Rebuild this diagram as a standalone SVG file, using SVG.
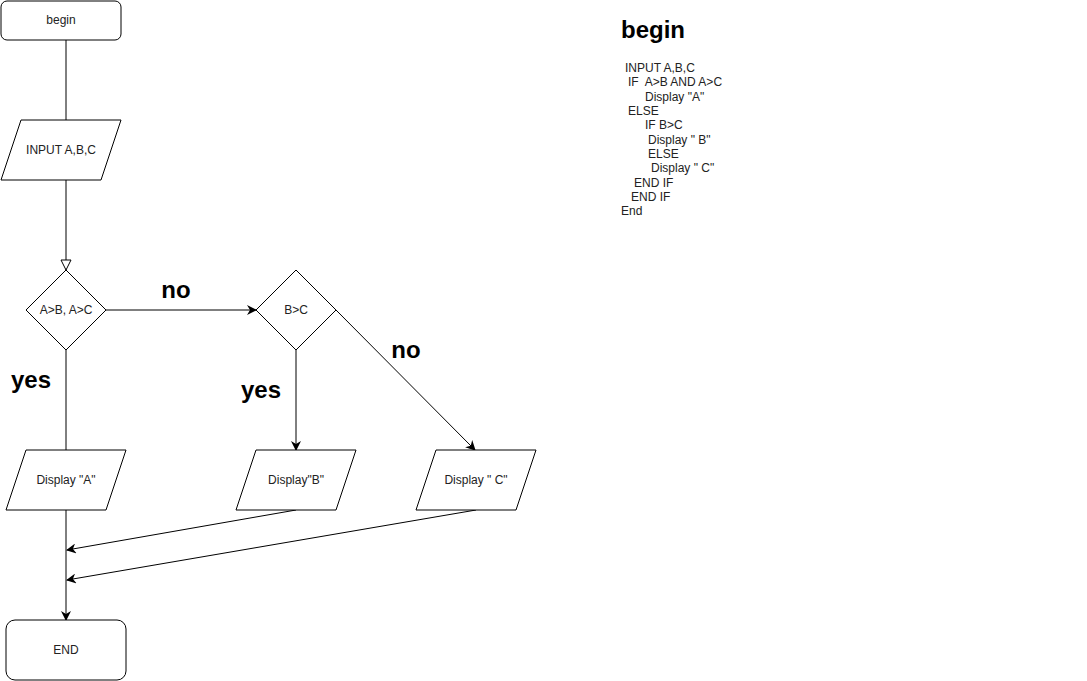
<svg xmlns="http://www.w3.org/2000/svg" width="1087" height="681" viewBox="0 0 1087 681">
<defs>
<marker id="arr" viewBox="0 0 10 10" refX="9" refY="5" markerWidth="10" markerHeight="10" markerUnits="userSpaceOnUse" orient="auto">
<path d="M0,0 L10,5 L0,10 L3,5 Z" fill="#000"/>
</marker>
<marker id="open" viewBox="0 0 12 12" refX="11" refY="6" markerWidth="12" markerHeight="12" markerUnits="userSpaceOnUse" orient="auto">
<path d="M1,1 L11,6 L1,11 Z" fill="#fff" stroke="#000" stroke-width="1"/>
</marker>
</defs>
<style>
.shape{fill:#fff;stroke:#000;stroke-width:1}
.lbl{font-family:"Liberation Sans",Arial,sans-serif;font-size:12px;fill:#222;text-anchor:middle;dominant-baseline:central}
.edge{fill:none;stroke:#000;stroke-width:1}
.big{font-family:"Liberation Sans",Arial,sans-serif;font-size:24px;font-weight:bold;fill:#000}
.code{font-family:"Liberation Sans",Arial,sans-serif;font-size:12px;fill:#222;white-space:pre}
</style>
<rect width="1087" height="681" fill="#fff"/>
<g id="connectors">
<path class="edge" d="M66,40 L66,120"/>
<path class="edge" d="M66,180 L66,270" marker-end="url(#open)"/>
<path class="edge" d="M106,310 L256,310" marker-end="url(#arr)"/>
<path class="edge" d="M66,350 L66,450"/>
<path class="edge" d="M296,350 L296,450" marker-end="url(#arr)"/>
<path class="edge" d="M336,310 L475,450" marker-end="url(#arr)"/>
<path class="edge" d="M66,510 L66,620" marker-end="url(#arr)"/>
<path class="edge" d="M296,510 L67,550" marker-end="url(#arr)"/>
<path class="edge" d="M476,510 L67,580" marker-end="url(#arr)"/>
</g>
<g id="begin"><rect class="shape" x="1" y="1" width="120" height="39" rx="6"/><text class="lbl" x="61" y="20">begin</text></g>
<g id="input"><path class="shape" d="M21,120 L121,120 L101,180 L1,180 Z"/><text class="lbl" x="61" y="150">INPUT A,B,C</text></g>
<g id="dec1"><path class="shape" d="M66,270 L106,310 L66,350 L26,310 Z"/><text class="lbl" x="66" y="310">A&gt;B, A&gt;C</text></g>
<g id="dec2"><path class="shape" d="M296,270 L336,310 L296,350 L256,310 Z"/><text class="lbl" x="296" y="310">B&gt;C</text></g>
<g id="dispA"><path class="shape" d="M26,450 L126,450 L106,510 L6,510 Z"/><text class="lbl" x="66" y="480">Display "A"</text></g>
<g id="dispB"><path class="shape" d="M256,450 L356,450 L336,510 L236,510 Z"/><text class="lbl" x="296" y="480">Display"B"</text></g>
<g id="dispC"><path class="shape" d="M436,450 L536,450 L516,510 L416,510 Z"/><text class="lbl" x="476" y="480">Display " C"</text></g>
<g id="end"><rect class="shape" x="6" y="620" width="120" height="60" rx="9"/><text class="lbl" x="66" y="650">END</text></g>
<g id="labels">
<text class="big" x="176" y="298" text-anchor="middle">no</text>
<text class="big" x="31" y="388" text-anchor="middle">yes</text>
<text class="big" x="261" y="398" text-anchor="middle">yes</text>
<text class="big" x="406" y="358" text-anchor="middle">no</text>
</g>
<g id="pseudocode">
<text class="big" x="621" y="38">begin</text>
<text class="code" x="625" y="72">INPUT A,B,C</text>
<text class="code" x="628" y="86">IF  A&gt;B AND A&gt;C</text>
<text class="code" x="645" y="101">Display "A"</text>
<text class="code" x="628" y="115">ELSE</text>
<text class="code" x="645" y="129">IF B&gt;C</text>
<text class="code" x="648" y="144">Display " B"</text>
<text class="code" x="648" y="158">ELSE</text>
<text class="code" x="651" y="172">Display " C"</text>
<text class="code" x="634" y="187">END IF</text>
<text class="code" x="631" y="201">END IF</text>
<text class="code" x="621" y="215">End</text>
</g>
</svg>
